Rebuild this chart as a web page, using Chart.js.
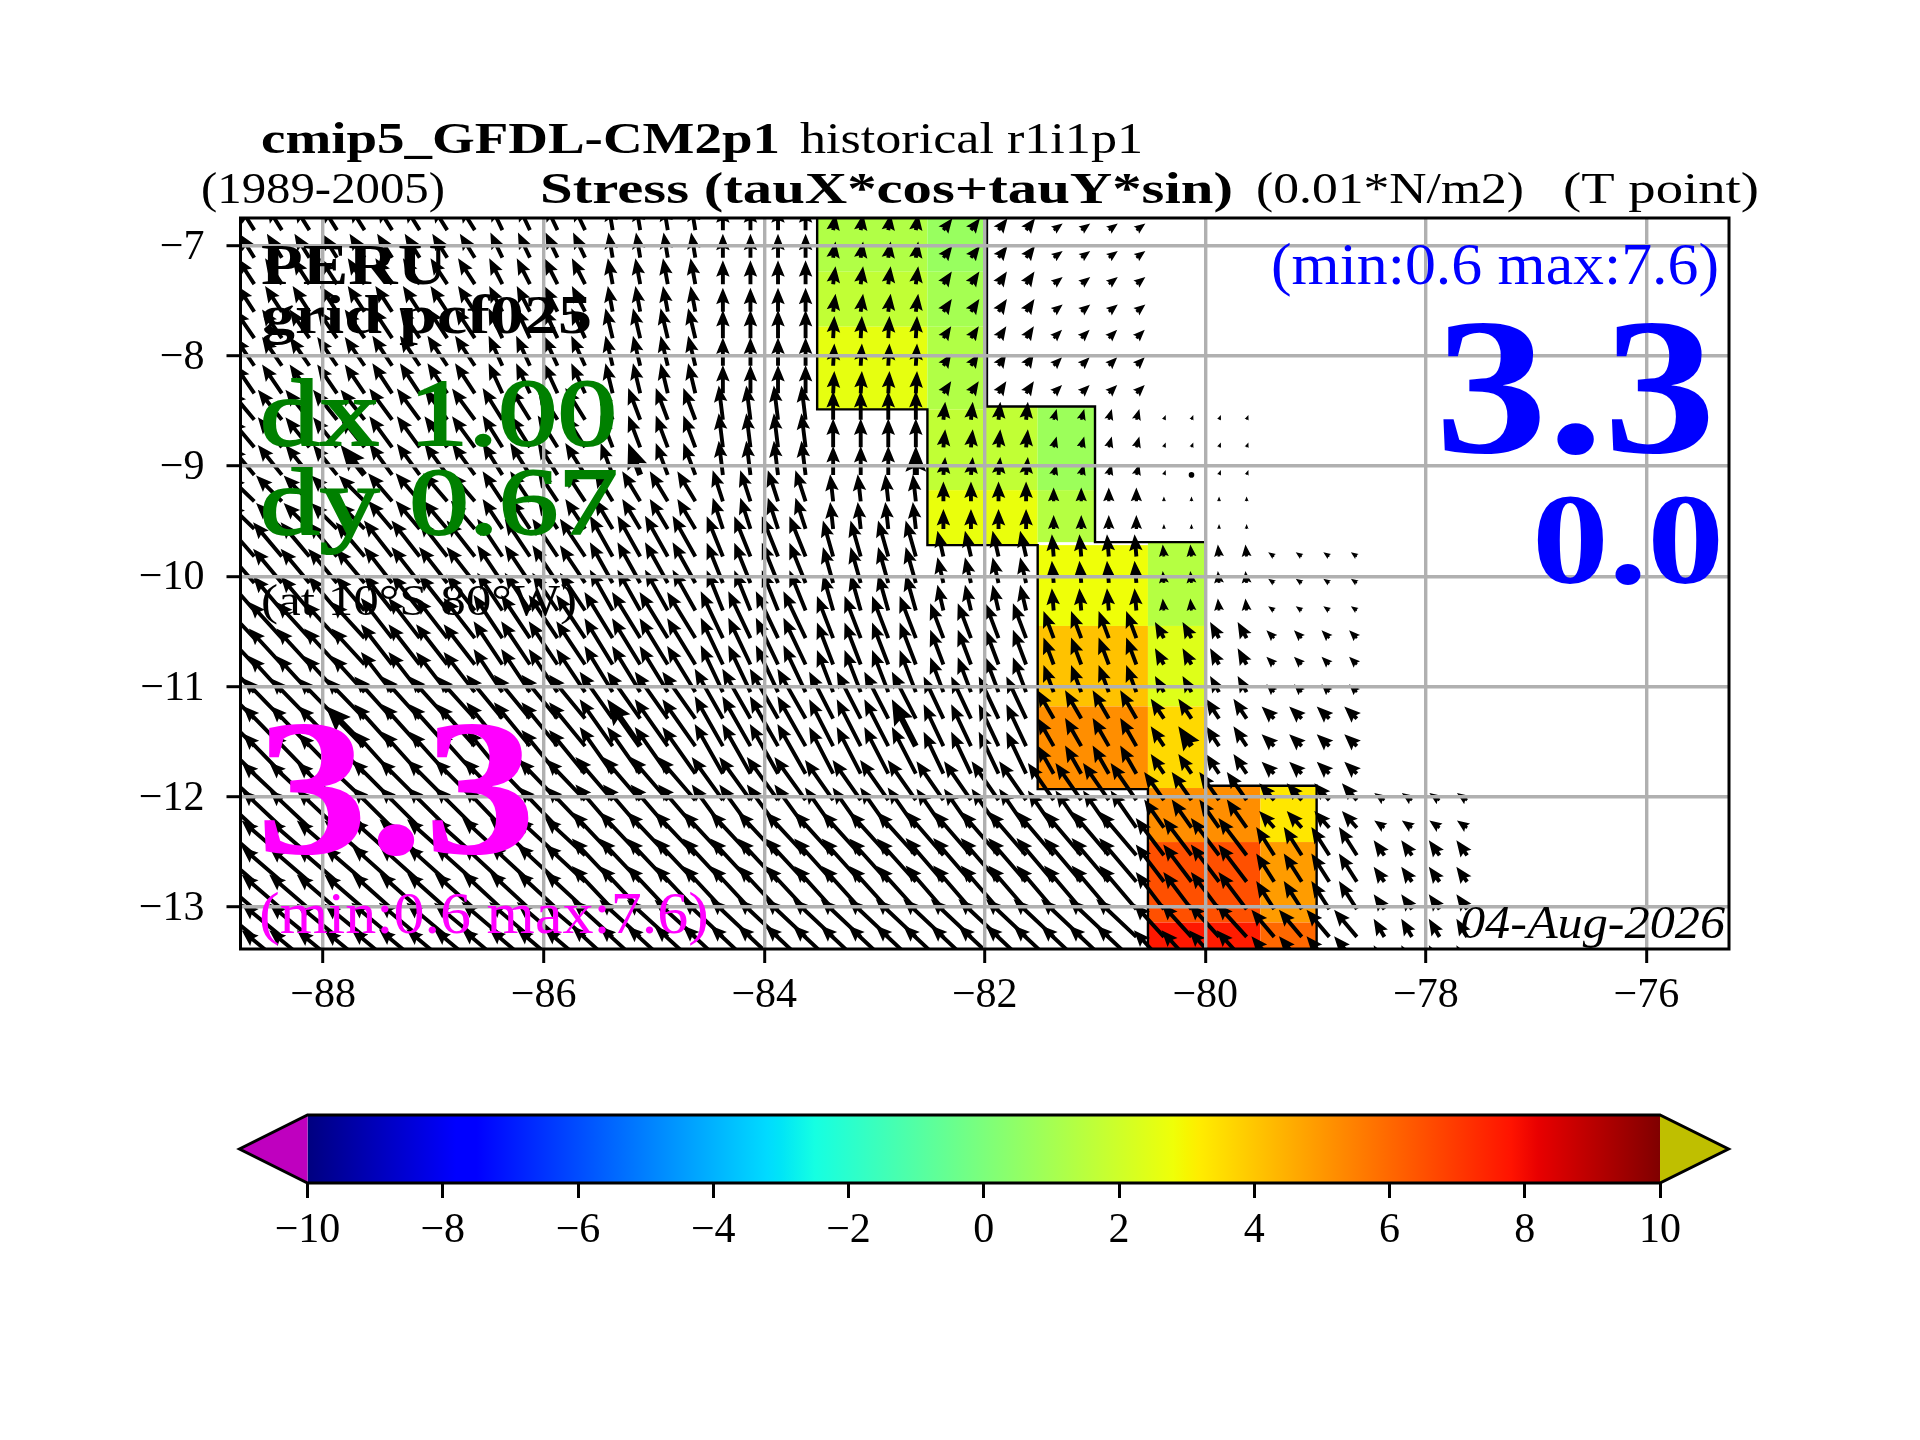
<!DOCTYPE html>
<html>
<head>
<meta charset="utf-8">
<title>cmip5_GFDL-CM2p1 Stress</title>
<script src="https://cdn.jsdelivr.net/npm/chart.js@4"></script>
<style>
  html, body { margin: 0; padding: 0; background: #fff; }
  #page { position: relative; width: 1920px; height: 1440px; }
  #mapChart { position: absolute; left: 0; top: 0; }
  #barChart { position: absolute; left: 0; top: 1090px; }
</style>
</head>
<body>
<div id="page">
  <canvas id="mapChart" width="1920" height="1440"></canvas>
  <canvas id="barChart" width="1920" height="220"></canvas>
</div>
<script>
const lonTicks = [-88, -86, -84, -82, -80, -78, -76];
const latTicks = [-7, -8, -9, -10, -11, -12, -13];
const colorbarTicks = [-10, -8, -6, -4, -2, 0, 2, 4, 6, 8, 10];

// coloured cells (0.01 N/m2)
const cellWest = [-83.52, -83.52, -83.52, -82.52, -82.52, -82.52, -82.52, -82.52, -82, -82, -81.52, -81.52, -81.52, -81.52, -81.52, -80.52, -80.52, -80.52, -80.52, -80.52, -80.52, -80, -80, -80, -79.5, -79.5, -79.5];
const cellEast = [-82.52, -82.52, -82.52, -81.98, -81.98, -81.98, -82, -82, -81.52, -81.52, -81, -81, -80.52, -80.52, -80.52, -80, -80, -80, -80, -80, -80, -79.5, -79.5, -79.5, -78.99, -78.99, -78.99];
const cellNorth = [-6.75, -7.237, -7.736, -6.75, -7.237, -7.736, -8.486, -9.218, -8.46, -9.218, -8.46, -9.218, -9.717, -10.45, -11.18, -9.69, -10.45, -11.18, -11.92, -12.41, -13.14, -11.9, -12.41, -13.14, -11.9, -12.41, -13.14];
const cellSouth = [-7.237, -7.736, -8.486, -7.237, -7.736, -8.486, -9.218, -9.717, -9.218, -9.717, -9.218, -9.69, -10.45, -11.18, -11.93, -10.45, -11.18, -11.92, -12.41, -13.14, -13.38, -12.41, -13.14, -13.38, -12.41, -13.14, -13.38];
const cellValue = [1.3, 1.7, 2.6, 0.7, 1.0, 1.3, 1.7, 2.7, 1.7, 2.7, 0.8, 1.4, 2.8, 4.1, 5.2, 1.4, 2.4, 3.6, 5.2, 6.5, 7.7, 5.2, 6.5, 7.6, 3.3, 4.9, 6.0];

// black coast outline, both sides of the strip
const edgeWestLon = [-83.52, -83.52, -82.52, -82.52, -81.52, -81.52, -80.52, -80.52];
const edgeWestLat = [-6.75, -8.486, -8.486, -9.717, -9.717, -11.93, -11.93, -13.38];
const edgeEastLon = [-81.98, -81.98, -81, -81, -80, -80, -78.99, -78.99];
const edgeEastLat = [-6.75, -8.46, -8.46, -9.69, -9.69, -11.9, -11.9, -13.38];

// arrow grid
const arrowLons = [-88.625, -88.375, -88.125, -87.875, -87.625, -87.375, -87.125, -86.875, -86.625, -86.375, -86.125, -85.875, -85.625, -85.375, -85.125, -84.875, -84.625, -84.375, -84.125, -83.875, -83.625, -83.375, -83.125, -82.875, -82.625, -82.375, -82.125, -81.875, -81.625, -81.375, -81.125, -80.875, -80.625, -80.375, -80.125, -79.875, -79.625, -79.375, -79.125, -78.875, -78.625, -78.375, -78.125, -77.875, -77.625];
const arrowLats = [-6.86, -7.11, -7.35, -7.6, -7.84, -8.09, -8.34, -8.58, -8.83, -9.08, -9.32, -9.57, -9.82, -10.06, -10.31, -10.56, -10.8, -11.05, -11.29, -11.54, -11.79, -12.03, -12.28, -12.53, -12.77, -13.02, -13.27, -13.51];
// which block each grid column / row falls in (the source grid is coarser)
const arrowColBlock = [0, 1, 1, 1, 1, 2, 2, 2, 2, 3, 3, 3, 3, 4, 4, 4, 4, 5, 5, 5, 5, 6, 6, 6, 6, 7, 7, 7, 7, 8, 8, 8, 8, 9, 9, 9, 9, 10, 10, 10, 10, 11, 11, 11, 11];
const arrowRowBand = [0, 0, 1, 1, 2, 2, 2, 3, 3, 3, 4, 4, 5, 5, 5, 6, 6, 6, 7, 7, 7, 8, 8, 9, 9, 9, 10, 10];
const tauU = [
  [-2.5, -2.5, -2.5, -2, -0.7, 0, 0.4, 1.5, 1.5],
  [-2.8, -2.8, -2.8, -2.2, -0.8, 0, 0.4, 1.4, 1.5],
  [-3.3, -3.3, -3.3, -2.3, -1.2, 0, 0.2, 1.3, 1.4],
  [-4, -4, -3.8, -3.3, -2, -0.7, 0, 0.3, 0.5, 0.3],
  [-4.3, -4.3, -4, -3.3, -3, -1.7, -0.5, 0, 0, 0],
  [-4.8, -4.8, -4.7, -4.2, -3.8, -2.7, -1.7, -1, -0.3, -0.2, -1],
  [-5.5, -5.5, -5.2, -4.8, -4.7, -3.7, -2.7, -2.2, -1.7, -1.5, -1.3],
  [-6.3, -6.5, -6.3, -6, -5.5, -4.7, -4, -3.3, -2.7, -2.2, -2.1],
  [-6.7, -6.7, -6.7, -6.5, -6.2, -5.2, -4.7, -4.5, -4.3, -3.3, -2.5, -1.7],
  [-6.7, -6.7, -6.7, -6.7, -6.8, -6.7, -6.5, -6.3, -6.2, -4.7, -3, -1.8],
  [-6.7, -6.7, -6.8, -6.8, -6.8, -6.7, -6.7, -6.7, -6.7, -5, -3.8, -1.8],
];
const tauV = [
  [4, 4, 4, 4.2, 4.2, 4, 2.7, 2, 1.1],
  [4.3, 4.3, 4.3, 4.3, 4.3, 4, 3, 2.1, 1.2],
  [4.8, 4.8, 5, 5, 5, 4.7, 3.7, 2, 1.4],
  [4.8, 5, 5.2, 5.3, 5.3, 5.7, 4.8, 3, 1.8, 0.8],
  [4.2, 4.3, 4.7, 5, 5, 5.2, 4.5, 3.3, 2.3, 0.8],
  [5.5, 5.7, 6, 6.3, 6.8, 6.7, 6, 4.3, 3.7, 2, 0.7],
  [5.8, 6, 6.7, 7.2, 7.7, 7.8, 7, 5.8, 4.5, 2.7, 1.3],
  [6.3, 6.7, 7, 7.3, 7.8, 8.3, 7.8, 7, 4.7, 3.3, 2],
  [6.2, 6.3, 6.7, 6.8, 7.2, 7.2, 6.7, 6.5, 6.2, 4.7, 2.8, 1.2],
  [5.8, 5.8, 6, 6.2, 7.2, 7.2, 7.2, 7.3, 7.3, 6.2, 4.7, 2.5],
  [5.5, 5.5, 5.7, 5.8, 6.2, 6.3, 6.3, 6.3, 6.3, 5.5, 4.5, 3],
];
// heavier arrows, every tenth column on two rows
const heavyCols = [4, 14, 24, 34];
const heavyRows = [9, 19];

// jet colormap stops (position, level)
const jetRedPos = [0, 0.35, 0.66, 0.89, 1];
const jetRedVal = [0, 0, 1, 1, 0.5];
const jetGreenPos = [0, 0.125, 0.375, 0.64, 0.91, 1];
const jetGreenVal = [0, 0, 1, 1, 0, 0];
const jetBluePos = [0, 0.11, 0.34, 0.65, 1];
const jetBlueVal = [0.5, 1, 1, 0, 0];
const gradientStops = [0, 0.11, 0.125, 0.34, 0.35, 0.375, 0.64, 0.65, 0.66, 0.89, 0.91, 1];

const SERIF = '"Liberation Serif"';
const PX_PER_UNIT = 6; // arrow length on screen per 0.01 N/m2

function lookup(pos, val, f) {
  for (let i = 1; i < pos.length; i++) {
    if (f <= pos[i]) {
      return val[i - 1] + (val[i] - val[i - 1]) * (f - pos[i - 1]) / (pos[i] - pos[i - 1]);
    }
  }
  return val[val.length - 1];
}

function jetColor(f) {
  const r = Math.round(255 * lookup(jetRedPos, jetRedVal, f));
  const g = Math.round(255 * lookup(jetGreenPos, jetGreenVal, f));
  const b = Math.round(255 * lookup(jetBluePos, jetBlueVal, f));
  return `rgb(${r},${g},${b})`;
}

const quiverPoints = [];
arrowLats.forEach((lat, k) => {
  const band = arrowRowBand[k];
  arrowLons.forEach((lon, i) => {
    const block = arrowColBlock[i];
    if (block >= tauU[band].length) return;
    quiverPoints.push({
      x: lon,
      y: lat,
      u: tauU[band][block],
      v: tauV[band][block],
      heavy: heavyCols.includes(i) && heavyRows.includes(k),
    });
  });
});

function drawArrow(ctx, x, y, dx, dy, heavy) {
  const len = Math.hypot(dx, dy);
  const k = heavy ? 1.55 : 1;
  if (heavy && len < 6) {
    ctx.beginPath();
    ctx.arc(x, y, 2.8, 0, Math.PI * 2);
    ctx.fill();
    return;
  }
  let w = 3.9 * k, hw = 13.5 * k, hl = 16.5 * k, ha = 14.5 * k;
  // short arrows shrink as a whole, like quiver does
  let s = 1;
  if (len < hl) s = len / hl;
  w *= s; hw *= s; hl *= s; ha *= s;
  ctx.save();
  ctx.translate(x, y);
  ctx.rotate(Math.atan2(dy, dx));
  ctx.beginPath();
  ctx.moveTo(0, w / 2);
  ctx.lineTo(len - ha, w / 2);
  ctx.lineTo(len - hl, hw / 2);
  ctx.lineTo(len, 0);
  ctx.lineTo(len - hl, -hw / 2);
  ctx.lineTo(len - ha, -w / 2);
  ctx.lineTo(0, -w / 2);
  ctx.closePath();
  ctx.fill();
  ctx.restore();
}

// draws text squeezed or stretched to run from x0 to x1
function fitText(ctx, text, x0, x1, baseline, font, color, stroke) {
  ctx.save();
  ctx.font = font;
  ctx.fillStyle = color;
  ctx.textAlign = "left";
  ctx.textBaseline = "alphabetic";
  const natural = ctx.measureText(text).width;
  ctx.translate(x0, baseline);
  ctx.scale((x1 - x0) / natural, 1);
  ctx.fillText(text, 0, 0);
  if (stroke) {
    ctx.strokeStyle = color;
    ctx.lineWidth = stroke;
    ctx.strokeText(text, 0, 0);
  }
  ctx.restore();
}

const mapLayers = {
  id: "mapLayers",
  beforeDatasetsDraw(chart) {
    const { ctx, chartArea, scales } = chart;
    ctx.save();
    ctx.beginPath();
    ctx.rect(chartArea.left, chartArea.top, chartArea.width, chartArea.height);
    ctx.clip();
    cellValue.forEach((value, i) => {
      const x0 = scales.x.getPixelForValue(cellWest[i]);
      const x1 = scales.x.getPixelForValue(cellEast[i]);
      const y0 = scales.y.getPixelForValue(cellNorth[i]);
      const y1 = scales.y.getPixelForValue(cellSouth[i]);
      ctx.fillStyle = jetColor((value + 10) / 20);
      ctx.fillRect(x0, y0, x1 - x0, y1 - y0);
    });
    ctx.restore();
  },
  afterDatasetsDraw(chart) {
    const { ctx, chartArea, scales } = chart;
    ctx.save();
    ctx.beginPath();
    ctx.rect(chartArea.left, chartArea.top, chartArea.width, chartArea.height);
    ctx.clip();
    ctx.fillStyle = "#000";
    chart.data.datasets[0].data.forEach((p) => {
      drawArrow(
        ctx,
        scales.x.getPixelForValue(p.x),
        scales.y.getPixelForValue(p.y),
        p.u * PX_PER_UNIT,
        -p.v * PX_PER_UNIT,
        p.heavy
      );
    });
    ctx.restore();
  },
  afterDraw(chart) {
    const { ctx, chartArea } = chart;
    ctx.save();
    ctx.strokeStyle = "#000";
    ctx.lineWidth = 3;
    ctx.strokeRect(chartArea.left, chartArea.top, chartArea.width, chartArea.height);
    ctx.restore();

    // title lines
    fitText(ctx, "cmip5_GFDL-CM2p1", 261, 780, 153, `bold 44px ${SERIF}`, "#000");
    fitText(ctx, "historical r1i1p1", 800, 1143, 153, `44px ${SERIF}`, "#000");
    fitText(ctx, "(1989-2005)", 201, 445, 203, `44px ${SERIF}`, "#000");
    fitText(ctx, "Stress (tauX*cos+tauY*sin)", 540, 1233, 203, `bold 44px ${SERIF}`, "#000");
    fitText(ctx, "(0.01*N/m2)", 1256, 1524, 203, `44px ${SERIF}`, "#000");
    fitText(ctx, "(T point)", 1563, 1759, 203, `44px ${SERIF}`, "#000");

    // notes inside the map
    fitText(ctx, "PERU", 261, 447, 284, `bold 58px ${SERIF}`, "#000");
    fitText(ctx, "grid pcf025", 261, 592, 333, `bold 54px ${SERIF}`, "#000");
    fitText(ctx, "dx 1.00", 260, 617, 445, `95px ${SERIF}`, "#008000", 2);
    fitText(ctx, "dy 0.67", 260, 618, 534, `95px ${SERIF}`, "#008000", 2);
    fitText(ctx, "(at 10°S 80°W)", 261, 577, 615, `44px ${SERIF}`, "#000");
    fitText(ctx, "3.3", 256, 536, 853, `bold 195px ${SERIF}`, "#ff00ff");
    fitText(ctx, "(min:0.6 max:7.6)", 259, 709, 933, `60px ${SERIF}`, "#ff00ff");
    fitText(ctx, "(min:0.6 max:7.6)", 1271, 1719, 284, `60px ${SERIF}`, "#0000ff");
    fitText(ctx, "3.3", 1435, 1716, 452, `bold 195px ${SERIF}`, "#0000ff");
    fitText(ctx, "0.0", 1532, 1724, 583, `bold 130px ${SERIF}`, "#0000ff");
    fitText(ctx, "04-Aug-2026", 1460, 1725, 938, `italic 47px ${SERIF}`, "#000");
  },
};

new Chart(document.getElementById("mapChart"), {
  type: "scatter",
  data: {
    datasets: [
      { label: "tau", data: quiverPoints, pointRadius: 0, showLine: false },
      {
        label: "coast west",
        data: edgeWestLon.map((x, i) => ({ x, y: edgeWestLat[i] })),
        showLine: true,
        pointRadius: 0,
        borderColor: "#000",
        borderWidth: 2.4,
        tension: 0,
      },
      {
        label: "coast east",
        data: edgeEastLon.map((x, i) => ({ x, y: edgeEastLat[i] })),
        showLine: true,
        pointRadius: 0,
        borderColor: "#000",
        borderWidth: 2.4,
        tension: 0,
      },
    ],
  },
  options: {
    responsive: false,
    devicePixelRatio: 1,
    animation: false,
    events: [],
    layout: { padding: { left: 0, top: 218, right: 191, bottom: 431 } },
    plugins: { legend: { display: false }, tooltip: { enabled: false }, title: { display: false } },
    scales: {
      x: {
        type: "linear",
        min: -88.75,
        max: -75.25,
        afterBuildTicks: (s) => { s.ticks = lonTicks.map((value) => ({ value })); },
        afterFit: (s) => { s.height = 60; },
        grid: { z: 1, color: "#b0b0b0", lineWidth: 3.4, tickColor: "#000", tickWidth: 3, tickLength: 14 },
        border: { display: false },
        ticks: {
          autoSkip: false,
          maxRotation: 0,
          color: "#000",
          padding: 8,
          font: { family: SERIF, size: 42 },
          callback: (v) => String(v).replace("-", "\u2212"),
        },
      },
      y: {
        type: "linear",
        min: -13.38,
        max: -6.75,
        afterBuildTicks: (s) => { s.ticks = latTicks.map((value) => ({ value })); },
        afterFit: (s) => { s.width = 240.5; },
        grid: { z: 1, color: "#b0b0b0", lineWidth: 3.4, tickColor: "#000", tickWidth: 3, tickLength: 14 },
        border: { display: false },
        ticks: {
          autoSkip: false,
          color: "#000",
          padding: 22,
          labelOffset: 2,
          font: { family: SERIF, size: 42 },
          callback: (v) => String(v).replace("-", "\u2212"),
        },
      },
    },
  },
  plugins: [mapLayers],
});

const colorbarParts = {
  id: "colorbarParts",
  afterDatasetsDraw(chart) {
    const { ctx, chartArea } = chart;
    const { left, right, top, bottom } = chartArea;
    const mid = (top + bottom) / 2;
    ctx.save();
    ctx.fillStyle = "#bf00bf";
    ctx.beginPath();
    ctx.moveTo(left, top);
    ctx.lineTo(239.5, mid);
    ctx.lineTo(left, bottom);
    ctx.closePath();
    ctx.fill();
    ctx.fillStyle = "#bfbf00";
    ctx.beginPath();
    ctx.moveTo(right, top);
    ctx.lineTo(1728.5, mid);
    ctx.lineTo(right, bottom);
    ctx.closePath();
    ctx.fill();
    ctx.strokeStyle = "#000";
    ctx.lineWidth = 3;
    ctx.lineJoin = "miter";
    ctx.beginPath();
    ctx.moveTo(left, top);
    ctx.lineTo(right, top);
    ctx.lineTo(1728.5, mid);
    ctx.lineTo(right, bottom);
    ctx.lineTo(left, bottom);
    ctx.lineTo(239.5, mid);
    ctx.closePath();
    ctx.stroke();
    ctx.restore();
  },
};

new Chart(document.getElementById("barChart"), {
  type: "bar",
  data: {
    labels: ["tau"],
    datasets: [
      {
        data: [[colorbarTicks[0], colorbarTicks[colorbarTicks.length - 1]]],
        barPercentage: 1,
        categoryPercentage: 1,
        borderWidth: 0,
        backgroundColor: (c) => {
          const area = c.chart.chartArea;
          if (!area) return "#000";
          const g = c.chart.ctx.createLinearGradient(area.left, 0, area.right, 0);
          gradientStops.forEach((f) => g.addColorStop(f, jetColor(f)));
          return g;
        },
      },
    ],
  },
  options: {
    indexAxis: "y",
    responsive: false,
    devicePixelRatio: 1,
    animation: false,
    events: [],
    layout: { padding: { left: 307.5, top: 25, right: 260, bottom: 27 } },
    plugins: { legend: { display: false }, tooltip: { enabled: false } },
    scales: {
      x: {
        type: "linear",
        min: -10,
        max: 10,
        afterBuildTicks: (s) => { s.ticks = colorbarTicks.map((value) => ({ value })); },
        afterFit: (s) => { s.height = 100; },
        grid: { drawOnChartArea: false, tickColor: "#000", tickWidth: 3, tickLength: 15 },
        border: { display: false },
        ticks: {
          autoSkip: false,
          maxRotation: 0,
          color: "#000",
          padding: 8,
          font: { family: SERIF, size: 42 },
          callback: (v) => String(v).replace("-", "\u2212"),
        },
      },
      y: { display: false },
    },
  },
  plugins: [colorbarParts],
});
</script>
</body>
</html>
